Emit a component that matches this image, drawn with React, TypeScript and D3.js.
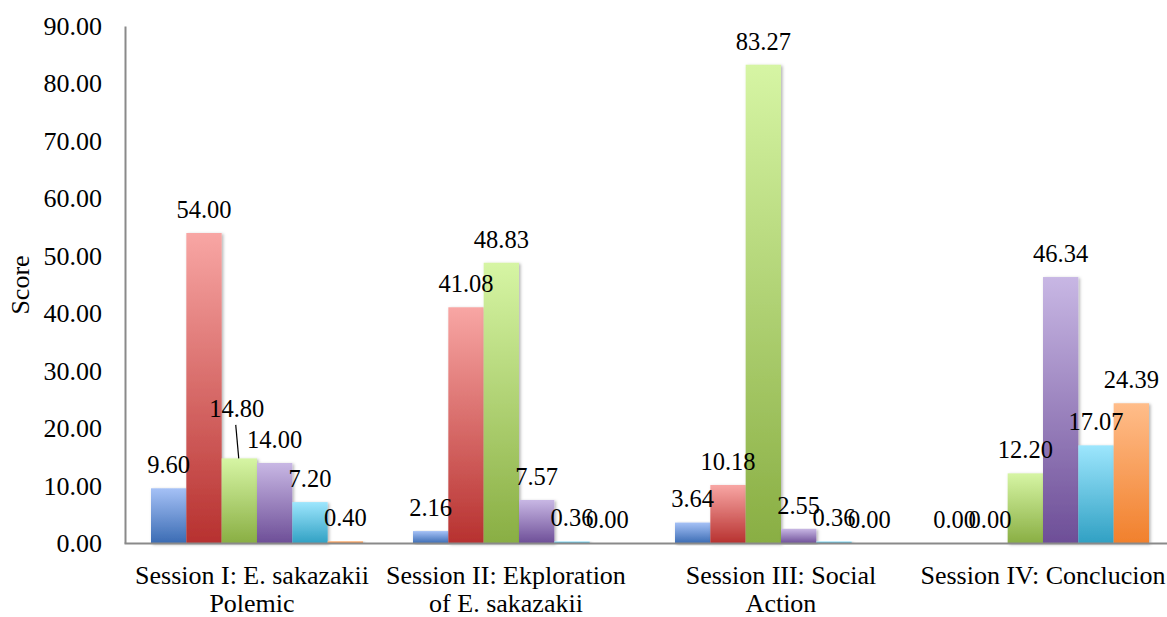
import React from "react";
import * as d3 from "d3";

// Session categories (line breaks mark how the axis labels wrap)
const categories = [
  "Session I: E. sakazakii\nPolemic",
  "Session II: Ekploration\nof E. sakazakii",
  "Session III: Social\nAction",
  "Session IV: Conclucion",
];

// Score per session for each of the six indicators
const series1 = [9.6, 2.16, 3.64, 0.0];
const series2 = [54.0, 41.08, 10.18, 0.0];
const series3 = [14.8, 48.83, 83.27, 12.2];
const series4 = [14.0, 7.57, 2.55, 46.34];
const series5 = [7.2, 0.36, 0.36, 17.07];
const series6 = [0.4, 0.0, 0.0, 24.39];

const seriesValues = [series1, series2, series3, series4, series5, series6];

const yTicks = [0, 10, 20, 30, 40, 50, 60, 70, 80, 90];

// Gradient stops (top, bottom) for each series
const palette: [string, string][] = [
  ["#a5c1f6", "#3a6bb3"],
  ["#f8a6a4", "#b7312f"],
  ["#d6f5a4", "#89ae43"],
  ["#c8b7e4", "#6d4e97"],
  ["#9de6fd", "#30a0c3"],
  ["#ffbd8a", "#f1802c"],
];

// Label placement tweaks: one label lifted above its neighbours with a leader line
const labelNudges = [{ series: 2, category: 0, dx: -2.6, dy: -26 }];
// Horizontal shift of wrapped category labels
const categoryLabelShift = [-5, -13, 0, 0];

const W = 1167;
const H = 617;
const plotLeft = 126;
const plotRight = 1174;
const yBottom = 543.5;
const yTop = 26;
const groupPad = 25;

const serif = '"Liberation Serif", "Times New Roman", serif';
const axisFont = 26;
const labelFont = 24.5;

export default function App() {
  const x0 = d3
    .scaleBand<number>()
    .domain(d3.range(categories.length))
    .range([plotLeft, plotRight])
    .paddingInner(0)
    .paddingOuter(0);
  const x1 = d3
    .scaleBand<number>()
    .domain(d3.range(seriesValues.length))
    .range([groupPad, x0.bandwidth() - groupPad])
    .padding(0);
  const y = d3.scaleLinear().domain([0, 90]).range([yBottom, yTop]);
  const fmt = d3.format(".2f");

  const axisColor = "#8a8a8a";

  return (
    <svg
      width={W}
      height={H}
      style={{ position: "absolute", left: 0, top: 0, background: "#fff" }}
    >
      <defs>
        {palette.map(([top, bottom], i) => (
          <linearGradient key={i} id={`grad${i}`} x1="0" y1="0" x2="0" y2="1">
            <stop offset="0%" stopColor={top} />
            <stop offset="100%" stopColor={bottom} />
          </linearGradient>
        ))}
        <filter id="barShadow" x="-30%" y="-5%" width="160%" height="115%">
          <feDropShadow dx="1.5" dy="1" stdDeviation="1.6" floodColor="#000" floodOpacity="0.3" />
        </filter>
      </defs>

      {/* y tick labels */}
      {yTicks.map((t) => (
        <text
          key={t}
          x={102}
          y={y(t)}
          dy="0.34em"
          textAnchor="end"
          fontFamily={serif}
          fontSize={axisFont}
          fill="#000"
        >
          {fmt(t)}
        </text>
      ))}

      {/* y axis title */}
      <text
        transform={`translate(29,285) rotate(-90)`}
        textAnchor="middle"
        fontFamily={serif}
        fontSize={axisFont}
        fill="#000"
      >
        Score
      </text>

      {/* bars */}
      {categories.map((_, ci) => (
        <g key={ci} transform={`translate(${x0(ci)},0)`}>
          {seriesValues.map((vals, si) => {
            const v = vals[ci];
            if (v <= 0) return null;
            return (
              <rect
                key={si}
                x={x1(si)}
                y={y(v)}
                width={x1.bandwidth()}
                height={y(0) - y(v)}
                fill={`url(#grad${si})`}
                filter="url(#barShadow)"
              />
            );
          })}
        </g>
      ))}

      {/* axis lines */}
      <line x1={125.5} x2={125.5} y1={yTop + 0.5} y2={yBottom} stroke={axisColor} strokeWidth={2} />
      <line x1={124.5} x2={W} y1={yBottom} y2={yBottom} stroke={axisColor} strokeWidth={2} />

      {/* data labels */}
      {categories.map((_, ci) =>
        seriesValues.map((vals, si) => {
          const v = vals[ci];
          const cx = (x0(ci) as number) + (x1(si) as number) + x1.bandwidth() / 2;
          const top = y(v);
          const nudge = labelNudges.find((n) => n.series === si && n.category === ci);
          const lx = cx + (nudge ? nudge.dx : 0);
          const lcy = top - 23.5 + (nudge ? nudge.dy : 0);
          return (
            <g key={`${ci}-${si}`}>
              {nudge && (
                <line
                  x1={lx - 1}
                  y1={lcy + 16}
                  x2={cx - 0.6}
                  y2={top}
                  stroke="#000"
                  strokeWidth={1.2}
                />
              )}
              <text
                x={lx}
                y={lcy}
                dy="0.34em"
                textAnchor="middle"
                fontFamily={serif}
                fontSize={labelFont}
                fill="#000"
              >
                {fmt(v)}
              </text>
            </g>
          );
        })
      )}

      {/* category labels */}
      {categories.map((c, ci) => {
        const cx = (x0(ci) as number) + x0.bandwidth() / 2 + categoryLabelShift[ci];
        return (
          <text
            key={ci}
            textAnchor="middle"
            fontFamily={serif}
            fontSize={axisFont}
            fill="#000"
          >
            {c.split("\n").map((line, li) => (
              <tspan key={li} x={cx} y={584 + li * 28}>
                {line}
              </tspan>
            ))}
          </text>
        );
      })}
    </svg>
  );
}
